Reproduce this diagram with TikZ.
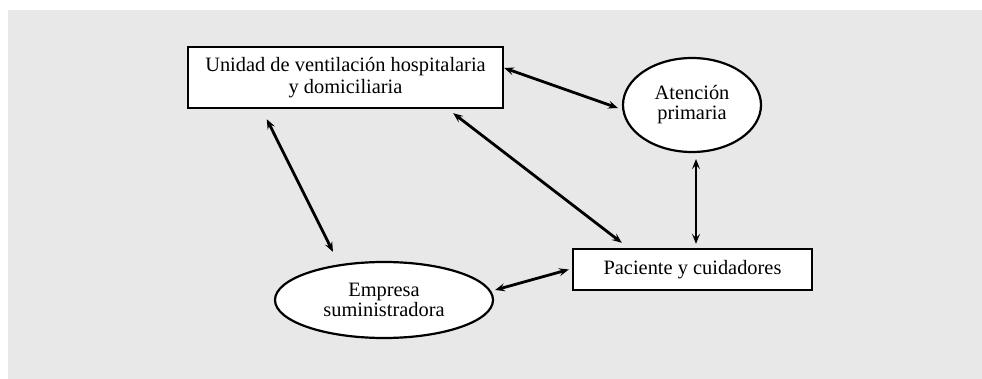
\documentclass[tikz,border=0pt]{standalone}
\usepackage{fontspec}
\setmainfont{Liberation Serif}
\usetikzlibrary{arrows.meta,calc,shapes.geometric}
\definecolor{bggray}{RGB}{232,232,232}
\tikzset{
  boxnode/.style={draw=black, line width=2.4pt, fill=white, inner sep=0pt, align=center,
    font=\fontsize{20.4}{21.5}\selectfont},
  ellnode/.style={draw=black, line width=2.2pt, fill=white, ellipse, inner sep=0pt, align=center,
    font=\fontsize{20.4}{20}\selectfont},
  dbl/.style={line width=2.8pt, {Stealth[length=10pt,width=8pt,inset=4pt]}-{Stealth[length=10pt,width=8pt,inset=4pt]}}
}
\begin{document}
\begin{tikzpicture}[x=1pt,y=-1pt]
\useasboundingbox (0,0) rectangle (982,379);
\fill[bggray] (8,10) rectangle (982,379);

\node[boxnode, minimum width=315pt, minimum height=61pt] (u) at (345.5,77.5)
  {Unidad de ventilación hospitalaria\\y domiciliaria};
\node[ellnode, minimum width=138pt, minimum height=94pt] (a) at (692,105)
  {Atención\\primaria};
\node[boxnode, minimum width=239pt, minimum height=41pt] (p) at (692.5,269.5)
  {Paciente y cuidadores};
\node[ellnode, minimum width=218pt, minimum height=76pt] (e) at (384,300)
  {Empresa\\suministradora};

\draw[dbl] ($(u.east)+(0,-9.5)$) -- ($(a.west)+(-4,3)$);
\draw[dbl] ($(u.south east)+(-51,4)$) -- ($(p.north west)+(50,-5)$);
\draw[dbl] ($(u.south west)+(80,10)$) -- ($(e.north)+(-51,-9)$);
\draw[dbl, line width=2.3pt] ($(a.south)+(4,6)$) -- ($(p.north)+(3.5,-4)$);
\draw[dbl] ($(e.east)+(1,-10)$) -- ($(p.west)+(-3,0)$);
\end{tikzpicture}
\end{document}
